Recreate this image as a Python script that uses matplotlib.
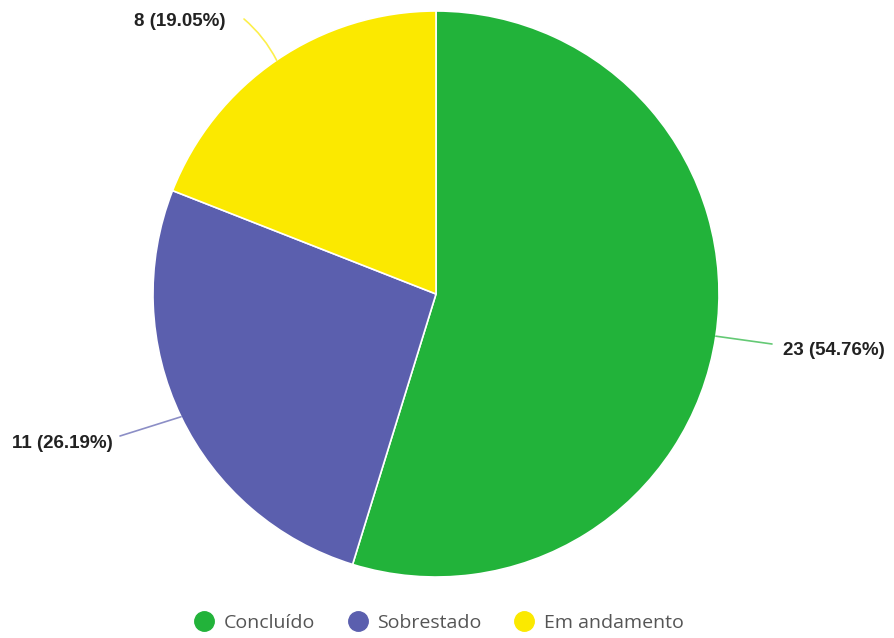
import matplotlib
matplotlib.use("Agg")
import matplotlib.pyplot as plt
from matplotlib.lines import Line2D
import numpy as np

categories = ["Concluído", "Sobrestado", "Em andamento"]
counts = [23, 11, 8]
colors = ["#22b33a", "#5b5fae", "#fbe900"]

# layout in pixel units (y measured upward)
W, H = 895, 638
cx, cy, r = 436, H - 294, 283

fig = plt.figure(figsize=(W / 100, H / 100), dpi=100)
ax = fig.add_axes([0, 0, 1, 1])

wedges, _ = ax.pie(counts, colors=colors, startangle=90, counterclock=False,
                   center=(cx, cy), radius=r,
                   wedgeprops=dict(edgecolor="white", linewidth=1.2))
ax.set_xlim(0, W)
ax.set_ylim(0, H)
ax.set_aspect("equal")
ax.axis("off")

total = sum(counts)
# label text anchor (pixels, y downward) and alignment per slice
label_pos = [(783, 351, "left"), (113, 443, "right"), (226, 22, "right")]
line_end = [(772, 344), (120, 436), (244, 19)]
bends = [0.0, 0.0, 0.1]
for w, n, col, (tx, ty, ha), (lx, ly), rad in zip(wedges, counts, colors,
                                                  label_pos, line_end, bends):
    mid = np.deg2rad((w.theta1 + w.theta2) / 2)
    ex = cx + r * np.cos(mid)
    ey = cy + r * np.sin(mid)
    ax.annotate("", xy=(lx, H - ly), xytext=(ex, ey),
                arrowprops=dict(arrowstyle="-", color=col, lw=1.2, alpha=0.7,
                                connectionstyle=f"arc3,rad={rad}",
                                shrinkA=0, shrinkB=0))
    ax.text(tx, H - ty, f"{n} ({n / total * 100:.2f}%)", ha=ha, va="center",
            fontsize=13.5, fontweight="bold", family="Liberation Sans",
            color="#222222")

handles = [Line2D([], [], marker="o", linestyle="", markersize=14,
                  markerfacecolor=c, markeredgecolor=c) for c in colors]
leg = fig.legend(handles, categories, loc="center", ncol=3, frameon=False,
                 bbox_to_anchor=(439 / W, 1 - 623 / H), handletextpad=0.5,
                 columnspacing=1.7, handlelength=1.0,
                 prop={"family": "Open Sans", "size": 14})
for t in leg.get_texts():
    t.set_color("#555555")

fig.savefig("out.png", dpi=100)
